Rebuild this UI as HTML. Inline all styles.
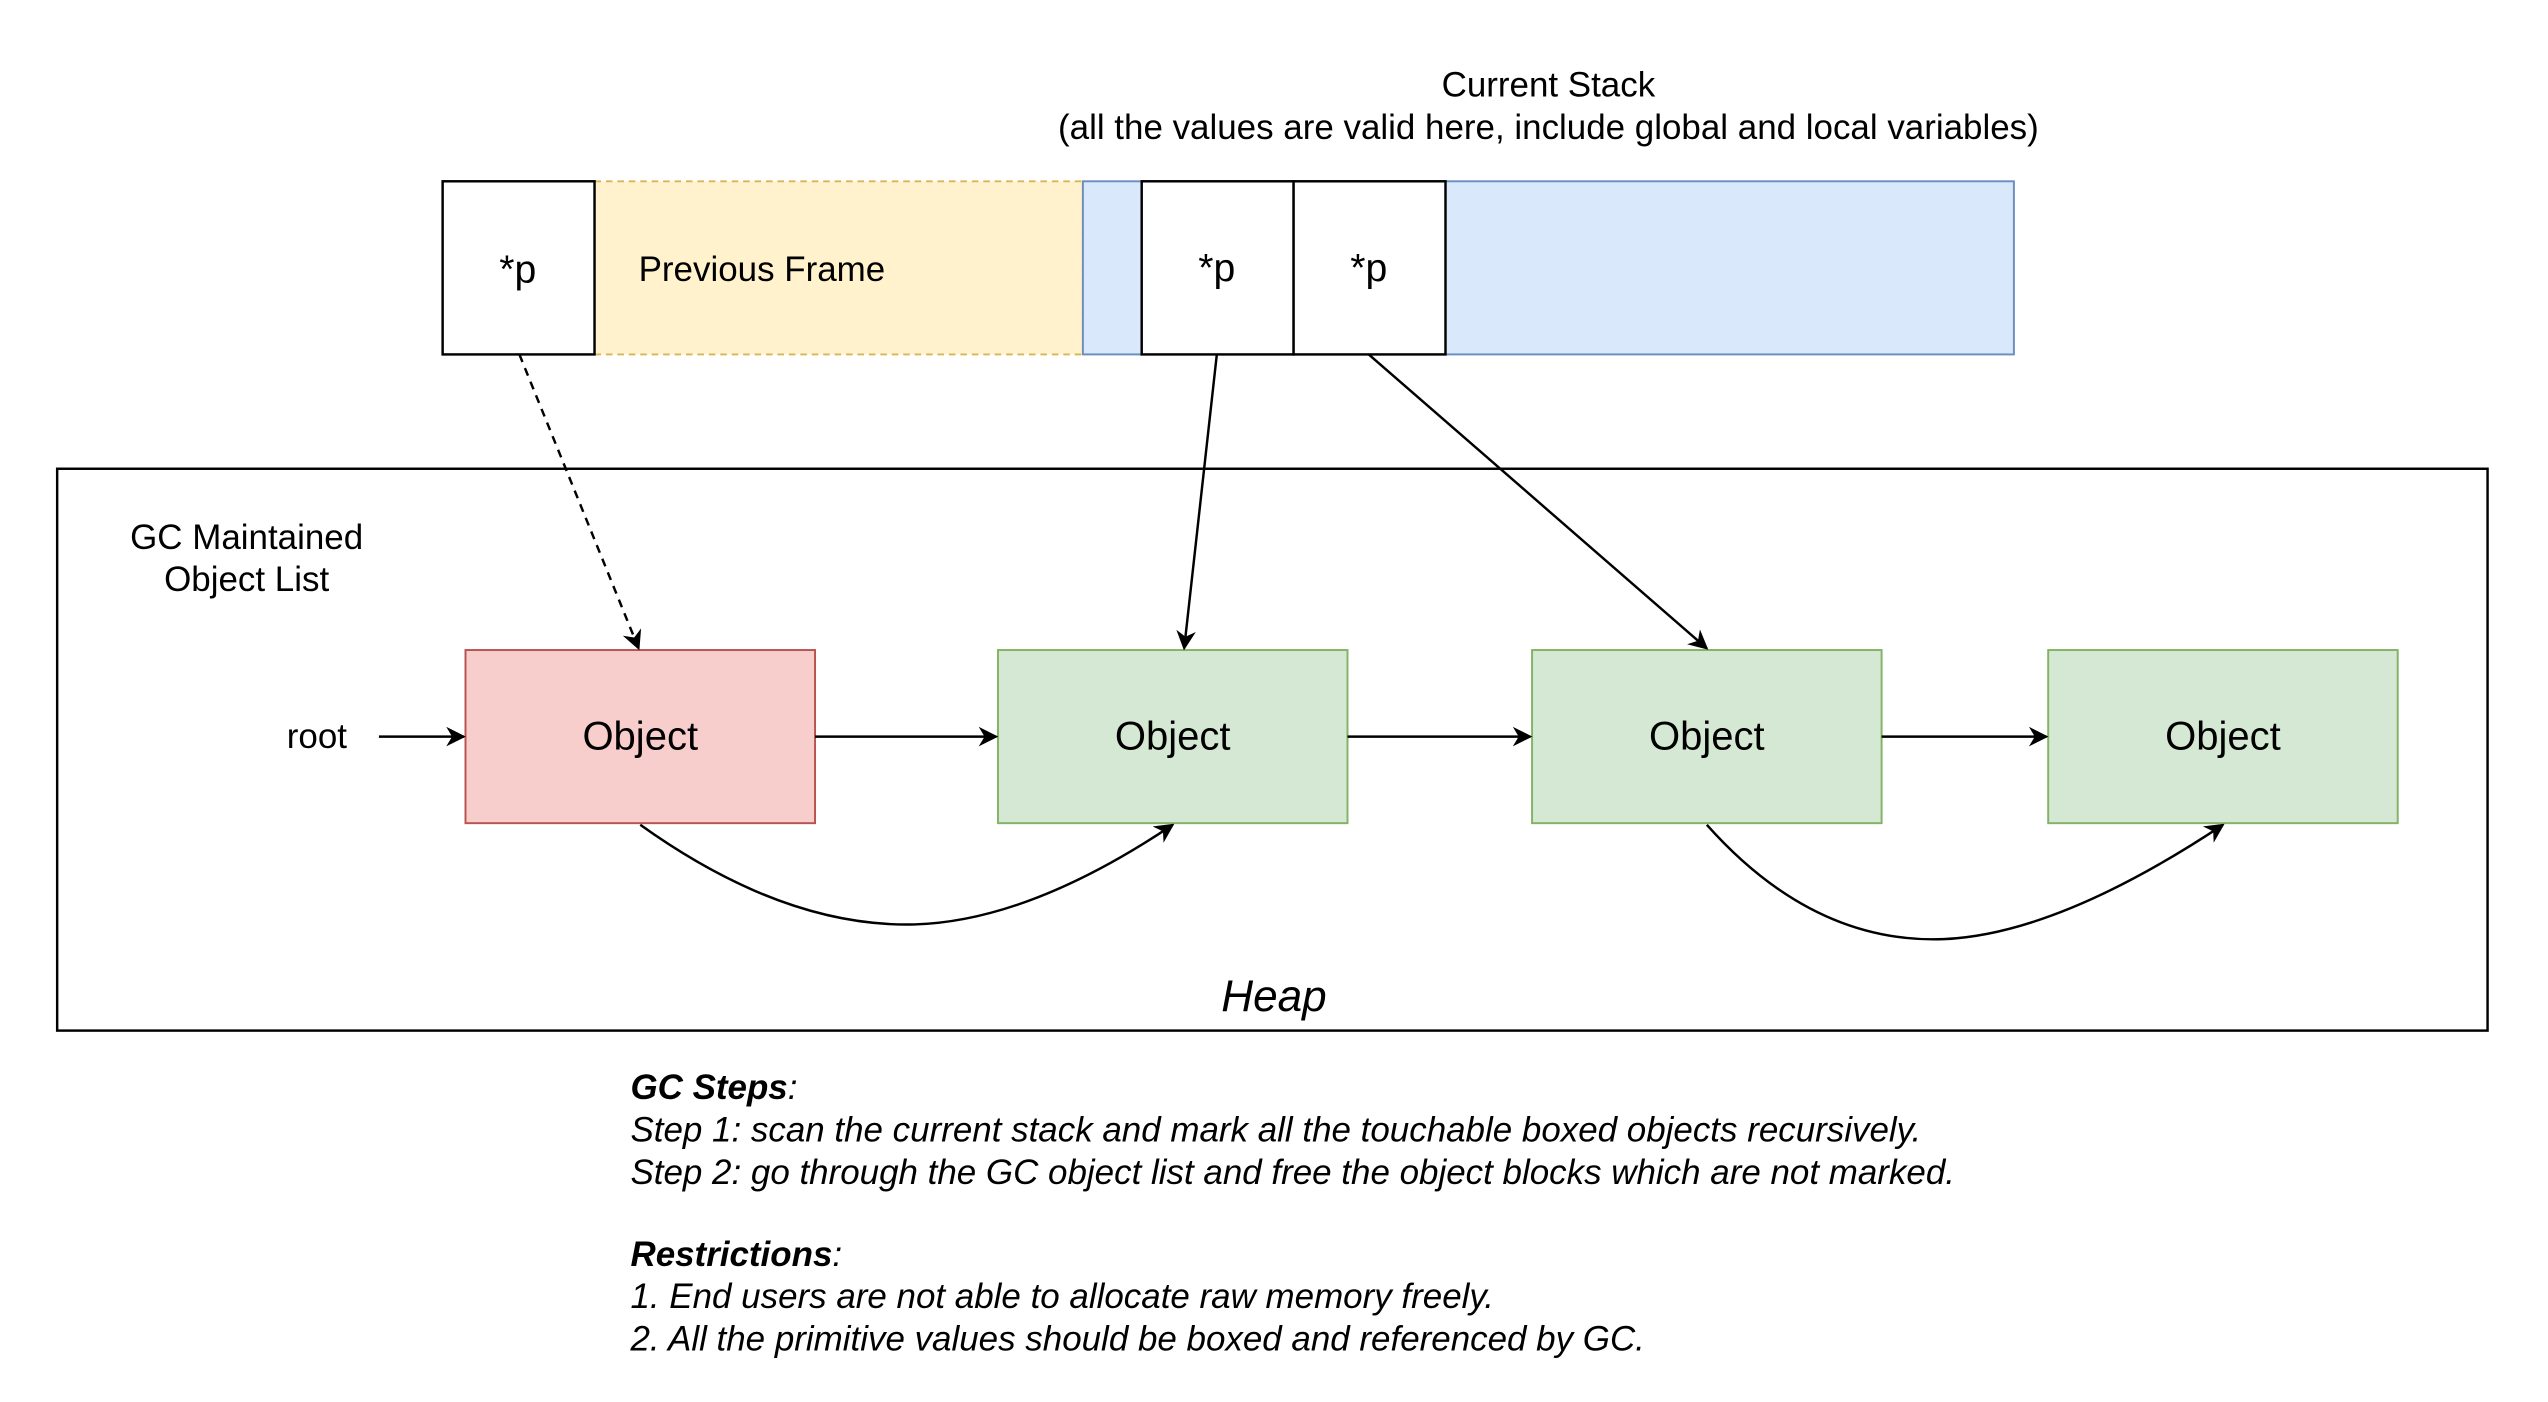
<!DOCTYPE html>
<html><head><meta charset="utf-8"><style>html,body{margin:0;padding:0;background:#fff}svg{display:block}</style></head>
<body>
<svg width="2548" height="1402" viewBox="0 0 1560 858.4" preserveAspectRatio="none" xmlns="http://www.w3.org/2000/svg" font-family="Liberation Sans, Arial, sans-serif">
<defs>
<marker id="b" viewBox="0 0 10 10" refX="9" refY="5" markerWidth="12" markerHeight="12" markerUnits="userSpaceOnUse" orient="auto"><path d="M0,0 L10,5 L0,10 L3,5 z" fill="#000"/></marker>
</defs>
<rect width="1560" height="858.4" fill="#fff"/>
<text x="948" y="59" font-size="21.4" text-anchor="middle">Current Stack</text>
<text x="948" y="85" font-size="21.4" text-anchor="middle">(all the values are valid here, include global and local variables)</text>
<rect x="364" y="111" width="299" height="106" fill="#fff2cc" stroke="#d6b656" stroke-width="1.2" stroke-dasharray="4,3"/>
<rect x="663" y="111" width="570" height="106" fill="#dae8fc" stroke="#6c8ebf" stroke-width="1.2"/>
<rect x="271" y="111" width="93" height="106" fill="#fff" stroke="#000" stroke-width="1.5"/>
<rect x="699" y="111" width="93" height="106" fill="#fff" stroke="#000" stroke-width="1.5"/>
<rect x="792" y="111" width="93" height="106" fill="#fff" stroke="#000" stroke-width="1.5"/>
<text x="317" y="173" font-size="24" text-anchor="middle">*p</text>
<text x="745" y="172" font-size="24" text-anchor="middle">*p</text>
<text x="838" y="172" font-size="24" text-anchor="middle">*p</text>
<text x="391" y="172" font-size="21.4">Previous Frame</text>
<rect x="35" y="287" width="1488" height="344" fill="none" stroke="#000" stroke-width="1.5"/>
<text x="151" y="336" font-size="21.4" text-anchor="middle">GC Maintained</text>
<text x="151" y="362" font-size="21.4" text-anchor="middle">Object List</text>
<rect x="285" y="398" width="214" height="106" fill="#f8cecc" stroke="#b85450" stroke-width="1.2"/>
<rect x="611" y="398" width="214" height="106" fill="#d5e8d4" stroke="#82b366" stroke-width="1.2"/>
<rect x="938" y="398" width="214" height="106" fill="#d5e8d4" stroke="#82b366" stroke-width="1.2"/>
<rect x="1254" y="398" width="214" height="106" fill="#d5e8d4" stroke="#82b366" stroke-width="1.2"/>
<g font-size="24.5" text-anchor="middle">
<text x="392" y="459">Object</text><text x="718" y="459">Object</text><text x="1045" y="459">Object</text><text x="1361" y="459">Object</text>
</g>
<text x="194" y="458" font-size="21.4" text-anchor="middle">root</text>
<g stroke="#000" stroke-width="1.5" fill="none">
<line x1="232" y1="451" x2="284" y2="451" marker-end="url(#b)"/>
<line x1="499" y1="451" x2="610" y2="451" marker-end="url(#b)"/>
<line x1="825" y1="451" x2="937" y2="451" marker-end="url(#b)"/>
<line x1="1152" y1="451" x2="1253" y2="451" marker-end="url(#b)"/>
<line x1="318" y1="217" x2="391" y2="397" stroke-dasharray="5,4" marker-end="url(#b)"/>
<line x1="745" y1="217" x2="725" y2="397" marker-end="url(#b)"/>
<line x1="838" y1="217" x2="1045" y2="397" marker-end="url(#b)"/>
<path d="M392,505 Q480,568 560,566 Q630,564 718,505" marker-end="url(#b)"/>
<path d="M1045,505 Q1110,578 1190,575 Q1260,572 1361,505" marker-end="url(#b)"/>
</g>
<text x="780" y="619" font-size="27" font-style="italic" text-anchor="middle">Heap</text>
<g font-size="21.4" font-style="italic">
<text x="386" y="673"><tspan font-weight="bold">GC Steps</tspan>:</text>
<text x="386" y="699">Step 1: scan the current stack and mark all the touchable boxed objects recursively.</text>
<text x="386" y="725">Step 2: go through the GC object list and free the object blocks which are not marked.</text>
<text x="386" y="775"><tspan font-weight="bold">Restrictions</tspan>:</text>
<text x="386" y="801">1. End users are not able to allocate raw memory freely.</text>
<text x="386" y="827">2. All the primitive values should be boxed and referenced by GC.</text>
</g>
</svg>
</body></html>
